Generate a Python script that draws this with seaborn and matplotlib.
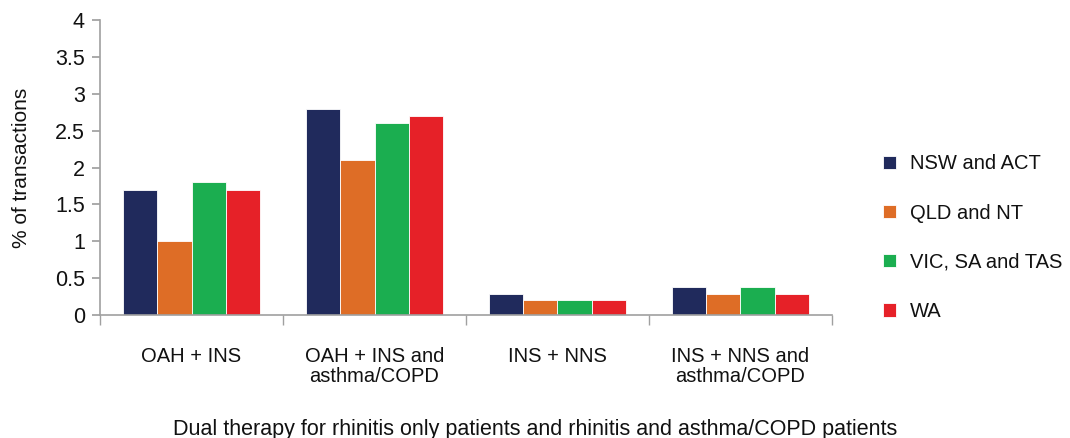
import numpy as np
import pandas as pd
import matplotlib
matplotlib.use("Agg")
import matplotlib.pyplot as plt
import seaborn as sns

categories = ["OAH + INS", "OAH + INS and\nasthma/COPD", "INS + NNS", "INS + NNS and\nasthma/COPD"]
regions = ["NSW and ACT", "QLD and NT", "VIC, SA and TAS", "WA"]
nsw_act = [1.7, 2.8, 0.28, 0.38]
qld_nt = [1.0, 2.1, 0.2, 0.28]
vic_sa_tas = [1.8, 2.6, 0.2, 0.38]
wa = [1.7, 2.7, 0.2, 0.28]
colors = ["#202A5C", "#DE6D26", "#1BAE50", "#E62128"]

rows = []
for reg, vals in zip(regions, [nsw_act, qld_nt, vic_sa_tas, wa]):
    for cat, v in zip(categories, vals):
        rows.append({"therapy": cat, "region": reg, "pct": v})
df = pd.DataFrame(rows)

sns.set_theme(style="white")
plt.rcParams["font.family"] = ["Liberation Sans", "DejaVu Sans"]

fig = plt.figure(figsize=(10.7, 4.38), dpi=100)
ax = fig.add_axes([0.0935, 0.281, 0.684, 0.673])

sns.barplot(data=df, x="therapy", y="pct", hue="region", palette=colors,
            width=0.745, gap=0, saturation=1, edgecolor="white", linewidth=0.6, ax=ax)

ax.set_ylim(0, 4)
ax.set_yticks(np.arange(0, 4.01, 0.5))
ax.set_yticklabels(["0", "0.5", "1", "1.5", "2", "2.5", "3", "3.5", "4"])
ax.set_xlim(-0.5, 3.5)
ax.set_xticks(np.arange(4))
ax.set_xticklabels(categories)
ax.set_xticks(np.arange(-0.5, 3.6, 1), minor=True)

for s in ["top", "right"]:
    ax.spines[s].set_visible(False)
for s in ["left", "bottom"]:
    ax.spines[s].set_color("#A0A0A0")
    ax.spines[s].set_linewidth(1.2)

ax.tick_params(axis="y", left=True, length=6, color="#A0A0A0", labelsize=15.5, pad=5, labelcolor="#111111")
ax.tick_params(axis="x", which="major", bottom=False, labelsize=14.5, pad=17, labelcolor="#111111")
ax.tick_params(axis="x", which="minor", bottom=True, length=7, color="#A0A0A0")
for t in ax.get_xticklabels():
    t.set_linespacing(1.05)

ax.set_ylabel("% of transactions", fontsize=15, color="#111111")
ax.yaxis.set_label_coords(-0.094, 0.5)
ax.set_xlabel("Dual therapy for rhinitis only patients and rhinitis and asthma/COPD patients",
              fontsize=15.5, color="#111111")
ax.xaxis.set_label_coords(0.594, -0.352)

leg = ax.legend(loc="center left", bbox_to_anchor=(1.045, 0.262), frameon=False,
                fontsize=14.5, handlelength=0.65, handleheight=0.65, labelspacing=1.5,
                handletextpad=0.7)
for t in leg.get_texts():
    t.set_color("#111111")

fig.savefig("out.png", dpi=100)
